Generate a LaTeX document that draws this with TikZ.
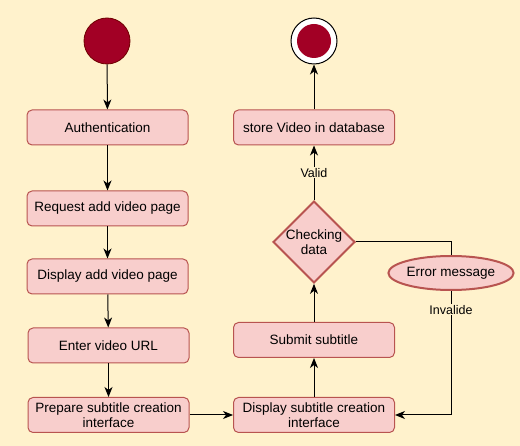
\documentclass[tikz,border=0pt]{standalone}
\usepackage{fontspec}
\setmainfont{Liberation Sans}
\usetikzlibrary{shapes.geometric,arrows.meta}
\definecolor{bg}{HTML}{FFF2CC}
\definecolor{boxfill}{HTML}{F8CECC}
\definecolor{boxline}{HTML}{B85450}
\definecolor{dotfill}{HTML}{A20025}
\definecolor{dotline}{HTML}{6F0000}
\tikzset{
  actbox/.style={draw=boxline, fill=boxfill, rounded corners=5pt, line width=1pt,
    minimum width=161pt, minimum height=35pt, inner sep=1pt, align=center,
    font=\fontsize{13.5}{15.5}\selectfont},
  conn/.style={draw=black, line width=1pt, -{Stealth[length=10pt,width=8pt,inset=3pt]}},
  plain/.style={draw=black, line width=1pt},
  lbl/.style={fill=bg, inner sep=1pt, font=\fontsize{12.5}{14}\selectfont}
}
\begin{document}
\begin{tikzpicture}[x=1pt,y=-1pt]
\fill[bg] (0,0) rectangle (520,446);
\useasboundingbox (0,0) rectangle (520,446);
% start
\node[circle, draw=dotline, fill=dotfill, minimum size=46pt, inner sep=0pt, line width=0.8pt] (start) at (107,41) {};
% end
\node[circle, draw=black, fill=white, minimum size=46pt, inner sep=0pt, line width=1pt] (end) at (314,41) {};
\node[circle, fill=dotfill, minimum size=34pt, inner sep=0pt] (endin) at (314,41) {};
% left column
\node[actbox] (auth) at (107.5,127.5) {Authentication};
\node[actbox] (req) at (107.5,208.5) {Request add video page};
\node[actbox] (disp) at (107.5,276.5) {Display add video page};
\node[actbox] (url) at (108.5,345.5) {Enter video URL};
\node[actbox] (prep) at (108.5,415) {Prepare subtitle creation\\interface};
% right column
\node[actbox] (store) at (314,127.5) {store Video in database};
\node[diamond, draw=boxline, fill=boxfill, line width=2pt, minimum width=82pt, minimum height=80pt, inner sep=0pt, align=center, font=\fontsize{13.5}{15.5}\selectfont] (check) at (314,242) {Checking\\data};
\node[actbox] (submit) at (314,340) {Submit subtitle};
\node[actbox] (dsub) at (314,415) {Display subtitle creation\\interface};
\node[ellipse, draw=boxline, fill=boxfill, line width=2pt, minimum width=105pt, minimum height=34pt, inner sep=0pt, font=\fontsize{13.5}{15.5}\selectfont] (err) at (451,273) {Error message};
% connectors
\draw[conn] (start) -- (auth);
\draw[conn] (auth) -- (req);
\draw[conn] (req) -- (disp);
\draw[conn] (disp) -- (url);
\draw[conn] (url) -- (prep);
\draw[conn] (prep) -- (dsub);
\draw[conn] (dsub) -- (submit);
\draw[conn] (submit) -- (check);
\draw[conn] (check) -- node[lbl] {Valid} (store);
\draw[conn] (store) -- (end);
\draw[plain] (check.east) -| (err.north);
\draw[conn] (err.south) -- node[lbl, pos=0.15] {Invalide} (err.south |- dsub.east) -- (dsub.east);
\end{tikzpicture}
\end{document}
